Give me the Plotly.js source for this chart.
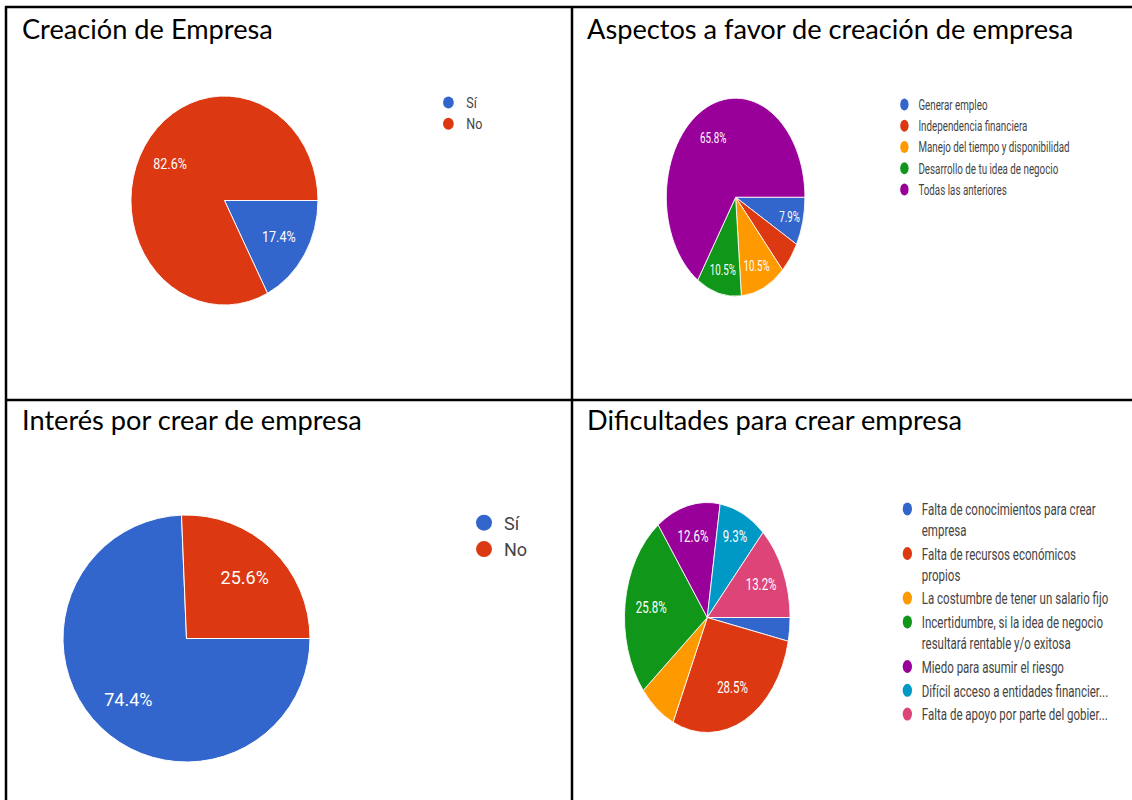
<!DOCTYPE html>
<html>
<head>
<meta charset="utf-8">
<script src="https://cdn.plot.ly/plotly-3.0.1.min.js"></script>
<style>
  html, body { margin:0; padding:0; background:#ffffff; }
  #stage { position:relative; width:1132px; height:800px; overflow:hidden; background:#fff; }
  .layer { position:absolute; transform-origin:0 0; }
</style>
</head>
<body>
<div id="stage">
  <div id="frame" class="layer" style="left:0;top:0;"></div>
  <div id="p1" class="layer"></div>
  <div id="p2" class="layer"></div>
  <div id="p3" class="layer"></div>
  <div id="p4" class="layer"></div>
</div>
<script>
// ---------------- DATA ----------------
const sheetTitles = [
  "Creación de Empresa",
  "Aspectos a favor de creación de empresa",
  "Interés por crear de empresa",
  "Dificultades para crear empresa"
];

const creacionLabels = ["Sí", "No"];
const creacionValues = [4, 19];            // 17.4 %, 82.6 %

const aspectosLabels = [
  "Generar empleo",
  "Independencia financiera",
  "Manejo del tiempo y disponibilidad",
  "Desarrollo de tu idea de negocio",
  "Todas las anteriores"
];
const aspectosValues = [3, 2, 4, 4, 25];   // 7.9, 5.3, 10.5, 10.5, 65.8 %

const interesLabels = ["Sí", "No"];
const interesValues = [29, 10];            // 74.4 %, 25.6 %

const dificultadesLabels = [
  "Falta de conocimientos para crear<br>empresa",
  "Falta de recursos económicos<br>propios",
  "La costumbre de tener un salario fijo",
  "Incertidumbre, si la idea de negocio<br>resultará rentable y/o exitosa",
  "Miedo para asumir el riesgo",
  "Difícil acceso a entidades financier...",
  "Falta de apoyo por parte del gobier..."
];
const dificultadesValues = [5, 43, 11, 39, 19, 14, 20]; // 3.3, 28.5, 7.3, 25.8, 12.6, 9.3, 13.2 %

const sliceColors = ["#3366cc", "#dc3912", "#ff9900", "#109618", "#990099", "#0099c6", "#dd4477"];

// ---------------- LAYOUT / STYLE ----------------
const W = 1132, H = 800;
const titleFont = "Lato, 'Open Sans', sans-serif";
const chartFont = "Roboto, Arial, sans-serif";
const minLabelShare = 0.075;  // labels hidden on thin slices, as in the source
const labelRingHole = 0.36;   // transparent ring trace that carries the % labels

const titlePos = [
  {x: 20,  y: 28},
  {x: 585, y: 28},
  {x: 20,  y: 419},
  {x: 585, y: 419}
];

const borderLines = [
  {x0: 5,   y0: 7,   x1: 1132, y1: 7},
  {x0: 6,   y0: 6,   x1: 6,    y1: 800},
  {x0: 572, y0: 6,   x1: 572,  y1: 800},
  {x0: 5,   y0: 400, x1: 1132, y1: 400}
];

const panels = [
  {id:"p1", labels:creacionLabels, values:creacionValues,
   left:0, top:0, sx:0.895, wu:626, h:400, cx:250.8, cy:200.5, r:104.5,
   fs:14, lfs:14, ms:12, lx:481, ly:87},
  {id:"p2", labels:aspectosLabels, values:aspectosValues,
   left:574, top:0, sx:0.70, wu:797, h:400, cx:230.9, cy:197.2, r:99,
   fs:14, lfs:14, ms:12, lx:452, ly:89},
  {id:"p3", labels:interesLabels, values:interesValues,
   left:0, top:400, sx:1.0, wu:572, h:400, cx:186.5, cy:238.5, r:123.5,
   fs:18, lfs:18, ms:16, lx:464, ly:104.5},
  {id:"p4", labels:dificultadesLabels, values:dificultadesValues,
   left:574, top:400, sx:0.72, wu:775, h:400, cx:185.1, cy:217.5, r:115,
   fs:16, lfs:16, ms:13, lx:443, ly:92}
];

const cfg = {staticPlot:true, displayModeBar:false, responsive:false};

// ---------------- FRAME (table borders + titles) ----------------
Plotly.newPlot("frame", [], {
  width: W, height: H,
  margin: {l:0, r:0, t:0, b:0, pad:0},
  paper_bgcolor: "#ffffff", plot_bgcolor: "#ffffff",
  xaxis: {visible:false, range:[0, W], fixedrange:true},
  yaxis: {visible:false, range:[H, 0], fixedrange:true},
  showlegend: false,
  shapes: borderLines.map(l => ({
    type:"line", xref:"paper", yref:"paper",
    x0:l.x0 / W, x1:l.x1 / W, y0:1 - l.y0 / H, y1:1 - l.y1 / H,
    line:{color:"#000000", width:2.5}
  })),
  annotations: sheetTitles.map((t, i) => ({
    text: t, xref:"paper", yref:"paper",
    x: titlePos[i].x / W, y: 1 - titlePos[i].y / H,
    xanchor:"left", yanchor:"middle", showarrow:false,
    font:{family:titleFont, size:27.2, color:"#000000"}
  }))
}, cfg);

// ---------------- PIES ----------------
panels.forEach(p => {
  const el = document.getElementById(p.id);
  el.style.left = p.left + "px";
  el.style.top = p.top + "px";
  el.style.transform = "scaleX(" + p.sx + ")";

  const total = p.values.reduce((a, b) => a + b, 0);
  const templates = p.values.map(v => (v / total >= minLabelShare ? "%{percent:.1%}" : ""));
  const domain = {
    x:[(p.cx - p.r) / p.wu, (p.cx + p.r) / p.wu],
    y:[1 - (p.cy + p.r) / p.h, 1 - (p.cy - p.r) / p.h]
  };

  const pie = {
    type:"pie", labels:p.labels, values:p.values,
    sort:false, direction:"clockwise", rotation:90,
    marker:{colors:sliceColors.slice(0, p.values.length), line:{color:"#ffffff", width:1}},
    textinfo:"none", showlegend:false, hoverinfo:"skip", domain:domain
  };

  // same data, transparent ring: only carries the percentage labels
  const labelRing = {
    type:"pie", labels:p.labels, values:p.values, hole:labelRingHole,
    sort:false, direction:"clockwise", rotation:90,
    marker:{colors:p.values.map(() => "rgba(0,0,0,0)"), line:{width:0}},
    textposition:"inside", insidetextorientation:"horizontal",
    texttemplate: templates,
    textfont:{family:chartFont, size:p.fs, color:"#ffffff"},
    showlegend:false, hoverinfo:"skip", domain:domain
  };

  const keys = p.labels.map((lab, i) => ({
    type:"scatter", mode:"markers", x:[null], y:[null],
    name: lab, showlegend:true, hoverinfo:"skip",
    marker:{color:sliceColors[i], size:p.ms, symbol:"circle", line:{width:0}}
  }));

  Plotly.newPlot(p.id, [pie, labelRing].concat(keys), {
    width:p.wu, height:p.h,
    margin:{l:0, r:0, t:0, b:0, pad:0},
    paper_bgcolor:"rgba(0,0,0,0)", plot_bgcolor:"rgba(0,0,0,0)",
    xaxis:{visible:false, fixedrange:true},
    yaxis:{visible:false, fixedrange:true},
    showlegend:true,
    legend:{
      x:p.lx / p.wu, y:1 - p.ly / p.h, xanchor:"left", yanchor:"top",
      font:{family:chartFont, size:p.lfs, color:"#444444"},
      valign:"top", bgcolor:"rgba(0,0,0,0)", borderwidth:0,
      itemclick:false, itemdoubleclick:false, tracegroupgap:0
    }
  }, cfg);
});
</script>
</body>
</html>
